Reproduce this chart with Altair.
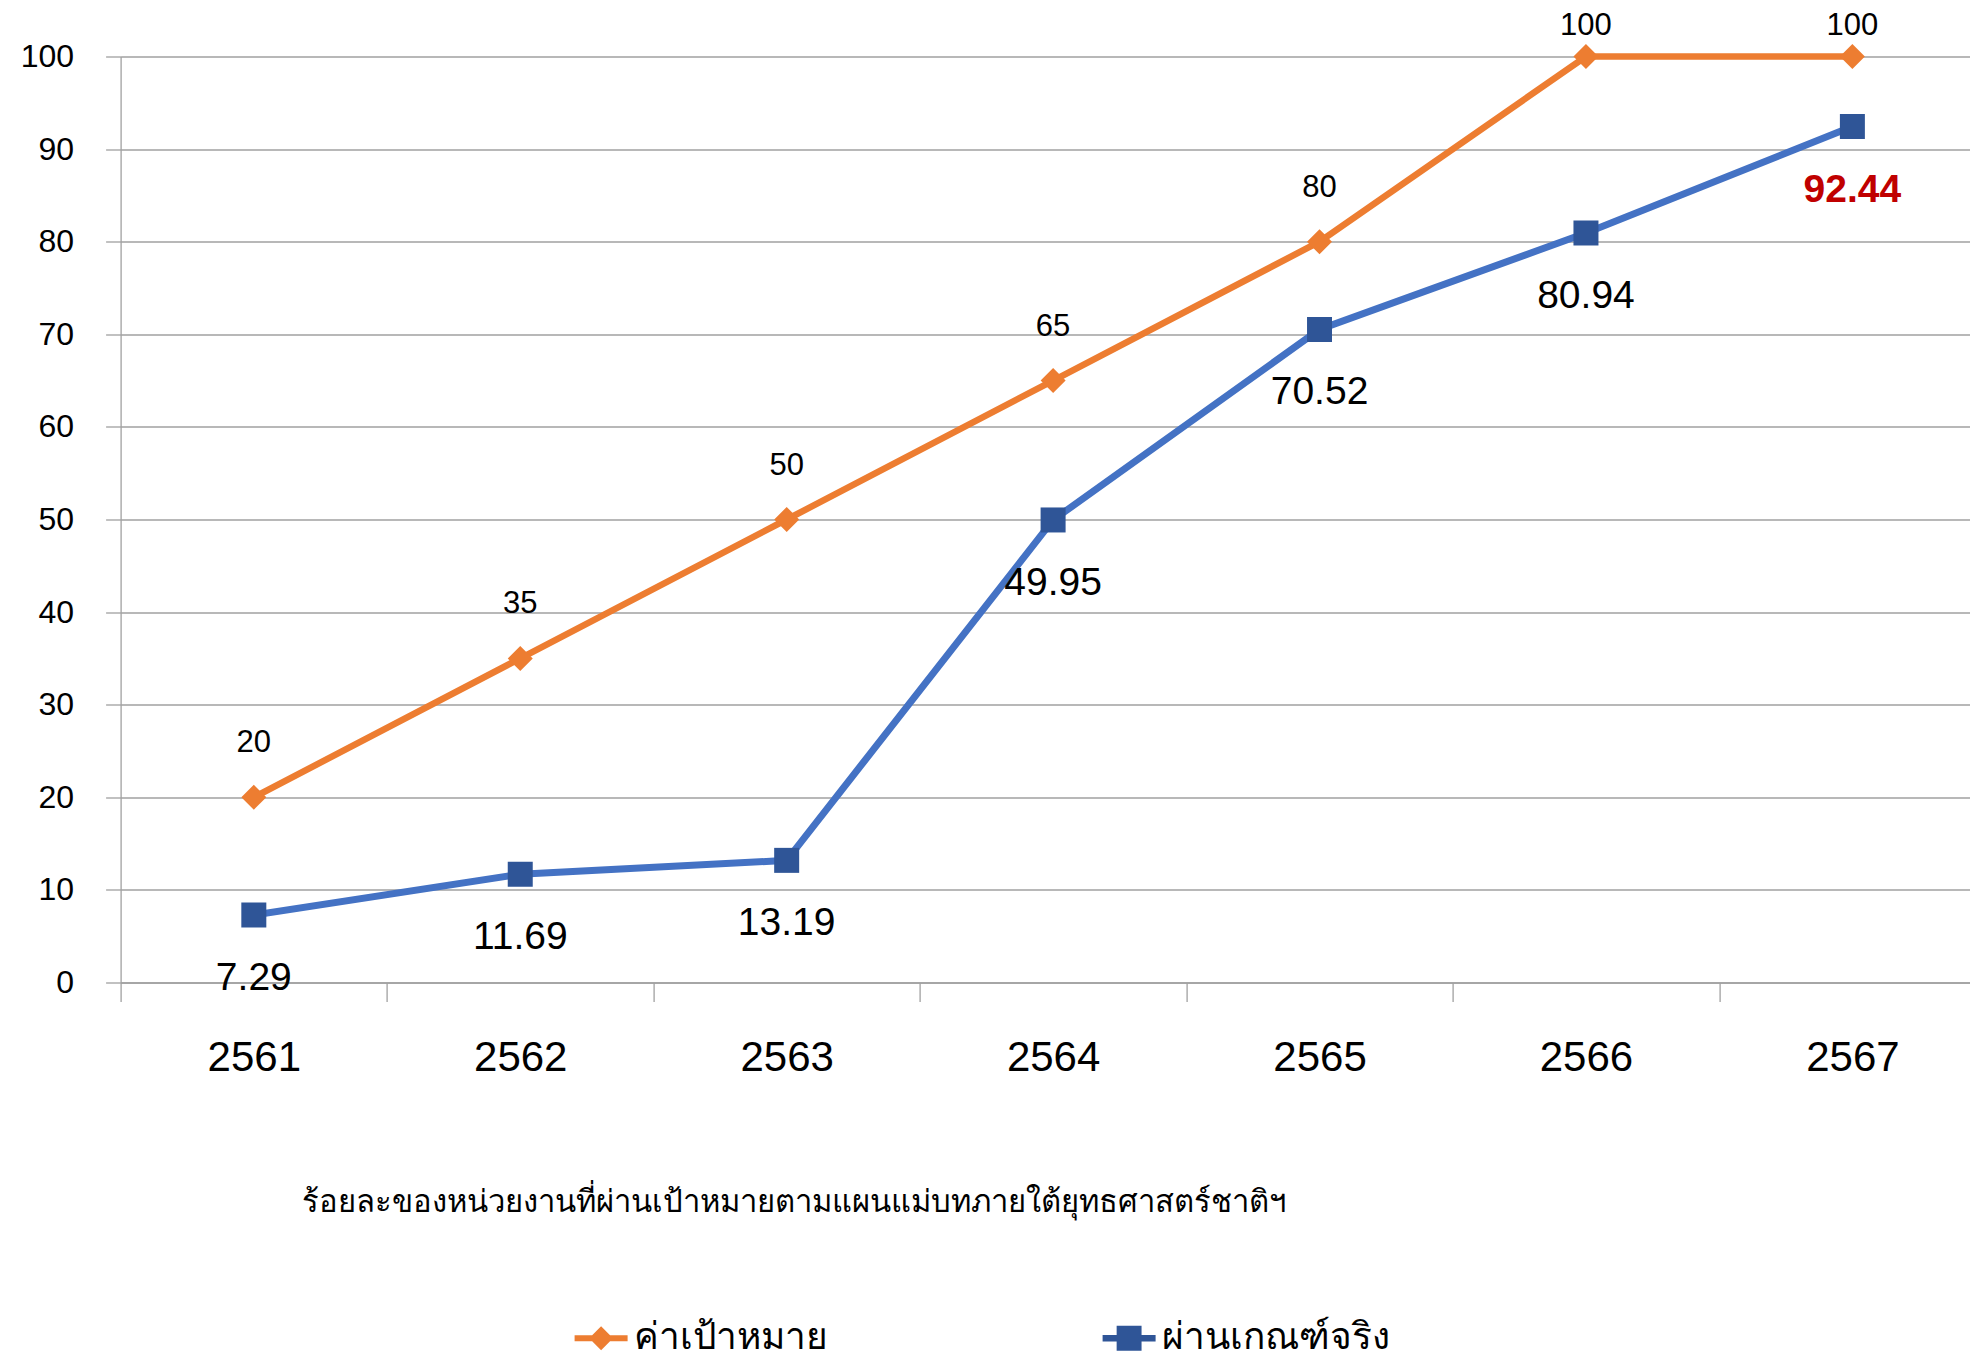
import altair as alt
import pandas as pd

years = ["2561", "2562", "2563", "2564", "2565", "2566", "2567"]
target = [20, 35, 50, 65, 80, 100, 100]
actual = [7.29, 11.69, 13.19, 49.95, 70.52, 80.94, 92.44]
series_names = ["ค่าเป้าหมาย", "ผ่านเกณฑ์จริง"]
x_title = "ร้อยละของหน่วยงานที่ผ่านเป้าหมายตามแผนแม่บทภายใต้ยุทธศาสตร์ชาติฯ"

ORANGE = "#ED7D31"
BLUE_LINE = "#4472C4"
BLUE_MARK = "#2F5597"
RED = "#C00000"
GRID = "#A0A0A0"
FONT = "Liberation Sans"

df_t = pd.DataFrame({"year": years, "value": target})
df_a = pd.DataFrame({"year": years, "value": actual})
df_a["last"] = [i == len(years) - 1 for i in range(len(years))]
df_leg = pd.DataFrame({"series": series_names})

x_enc = alt.X(
    "year:N",
    sort=years,
    scale=alt.Scale(type="band", paddingInner=0, paddingOuter=0),
    axis=alt.Axis(
        title=x_title,
        titleFont=FONT,
        titleFontSize=31,
        titleFontWeight="normal",
        titleColor="#000000",
        titleAnchor="start",
        titleAlign="left",
        titleBaseline="middle",
        titleX=181,
        titleY=220,
        labelFont=FONT,
        labelFontSize=42,
        labelColor="#000000",
        labelAngle=0,
        labelBaseline="middle",
        labelPadding=56,
        tickBand="extent",
        tickSize=19,
        tickColor=GRID,
        tickWidth=1.3,
        domainColor=GRID,
        domainWidth=1.3,
        grid=False,
    ),
)
y_scale = alt.Scale(domain=[0, 100], nice=False, zero=True)
y_enc = alt.Y(
    "value:Q",
    scale=y_scale,
    axis=alt.Axis(
        title=None,
        values=list(range(0, 101, 10)),
        labelFont=FONT,
        labelFontSize=32,
        labelColor="#000000",
        labelPadding=32,
        tickSize=15,
        tickColor=GRID,
        tickWidth=1.3,
        domainColor=GRID,
        domainWidth=1.3,
        grid=True,
        gridColor=GRID,
        gridWidth=1.3,
    ),
)

t_base = alt.Chart(df_t)
a_base = alt.Chart(df_a)

t_line = t_base.mark_line(color=ORANGE, strokeWidth=6.5).encode(x=x_enc, y=y_enc)
t_pts = t_base.mark_point(shape="diamond", filled=True, color=ORANGE, size=625, opacity=1).encode(
    x=alt.X("year:N", sort=years), y=alt.Y("value:Q")
)
t_lab = t_base.transform_filter("datum.value < 100").mark_text(
    font=FONT, fontSize=31, color="#000000", dy=-54
).encode(x=alt.X("year:N", sort=years), y=alt.Y("value:Q"), text=alt.Text("value:Q"))
t_lab_top = t_base.transform_filter("datum.value >= 100").mark_text(
    font=FONT, fontSize=31, color="#000000", dy=-31
).encode(x=alt.X("year:N", sort=years), y=alt.Y("value:Q"), text=alt.Text("value:Q"))

a_line = a_base.mark_line(color=BLUE_LINE, strokeWidth=7).encode(
    x=alt.X("year:N", sort=years), y=alt.Y("value:Q")
)
a_pts = a_base.mark_point(shape="square", filled=True, color=BLUE_MARK, size=625, opacity=1).encode(
    x=alt.X("year:N", sort=years), y=alt.Y("value:Q")
)
a_lab = a_base.transform_filter("!datum.last").mark_text(
    font=FONT, fontSize=39, color="#000000", dy=63
).encode(x=alt.X("year:N", sort=years), y=alt.Y("value:Q"), text=alt.Text("value:Q", format=".2f"))
a_lab_last = a_base.transform_filter("datum.last").mark_text(
    font=FONT, fontSize=39, fontWeight="bold", color=RED, dy=63
).encode(x=alt.X("year:N", sort=years), y=alt.Y("value:Q"), text=alt.Text("value:Q", format=".2f"))

leg = alt.Legend(
    title=None,
    orient="none",
    legendX=454,
    legendY=1255,
    direction="horizontal",
    padding=0,
    labelFont=FONT,
    labelFontSize=37,
    labelColor="#000000",
    labelOffset=6,
    labelLimit=400,
    symbolSize=2809,
    symbolStrokeWidth=0,
    symbolOpacity=1,
    columnPadding=241,
    gridAlign="all",
)
diamond_path = "M-1,-0.11H1V0.11H-1Z M0,-0.45L0.45,0L0,0.45L-0.45,0Z"
square_path = "M-1,-0.12H1V0.12H-1Z M-0.47,-0.47H0.47V0.47H-0.47Z"
legend_layer = alt.Chart(df_leg).transform_filter("false").mark_point(filled=True, opacity=1).encode(
    color=alt.Color("series:N", scale=alt.Scale(domain=series_names, range=[ORANGE, BLUE_MARK]), legend=leg),
    shape=alt.Shape("series:N", scale=alt.Scale(domain=series_names, range=[diamond_path, square_path]), legend=leg),
)

chart = alt.layer(
    t_line, a_line, t_pts, a_pts, t_lab, t_lab_top, a_lab, a_lab_last, legend_layer
).properties(
    width=1865,
    height=926,
    autosize=alt.AutoSizeParams(type="none"),
    padding={"left": 120.6, "top": 56.5, "right": -15.6, "bottom": 377.5},
    background="#FFFFFF",
).configure_view(stroke=None)

chart.save("out.html", embed_options={"renderer": "svg", "actions": False})
